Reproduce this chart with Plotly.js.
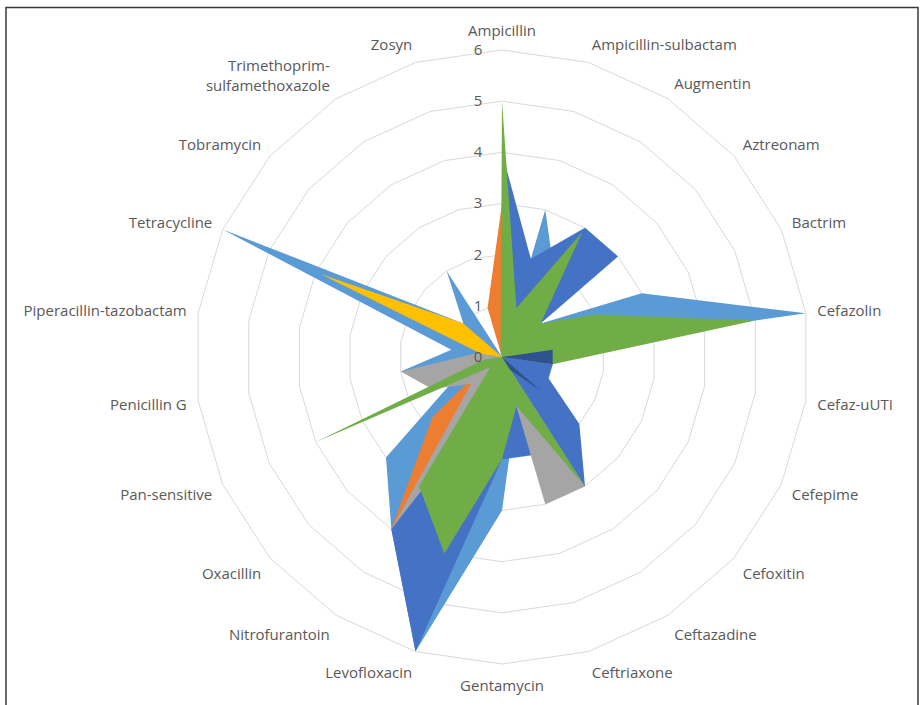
<!DOCTYPE html>
<html>
<head>
<meta charset="utf-8">
<script src="https://cdn.plot.ly/plotly-3.0.1.min.js"></script>
<style>
  html, body { margin: 0; padding: 0; background: #ffffff; }
  #chart { width: 924px; height: 705px; }
</style>
</head>
<body>
<div id="chart"></div>
<script>
// ---- data ----
const categories = ["Ampicillin","Ampicillin-sulbactam","Augmentin","Aztreonam","Bactrim","Cefazolin","Cefaz-uUTI","Cefepime","Cefoxitin","Ceftazadine","Ceftriaxone","Gentamycin","Levofloxacin","Nitrofurantoin","Oxacillin","Pan-sensitive","Penicillin G","Piperacillin-tazobactam","Tetracycline","Tobramycin","Trimethoprim-sulfamethoxazole","Zosyn"];
const categoryLabels = ["Ampicillin","Ampicillin-sulbactam","Augmentin","Aztreonam","Bactrim","Cefazolin","Cefaz-uUTI","Cefepime","Cefoxitin","Ceftazadine","Ceftriaxone","Gentamycin","Levofloxacin","Nitrofurantoin","Oxacillin","Pan-sensitive","Penicillin G","Piperacillin-tazobactam","Tetracycline","Tobramycin","Trimethoprim-<br>sulfamethoxazole","Zosyn"];
const radialTicks = [0, 1, 2, 3, 4, 5, 6];

const seriesLightBlue = [0, 3, 1.9, 1, 3, 6, 0, 0, 0, 0, 1, 3, 6, 4, 3, 1, 2, 1, 6, 1, 2, 0];
const seriesDarkBlue  = [4, 2, 3, 3, 0, 1, 1, 1, 2, 3, 2, 2, 6, 4, 0, 0, 0, 0, 0, 0, 0, 0];
const seriesOrange    = [3, 0, 0, 0, 0, 0, 0, 0, 0, 0, 0, 0, 0.5, 4, 1.8, 0.35, 0, 0, 0, 0, 0, 1];
const seriesGray      = [0, 0, 0, 0, 0, 0, 0, 0, 0, 3, 3, 0, 1, 4, 0.8, 1.5, 2, 0.5, 0, 0, 0, 0];
const seriesYellow    = [0, 0, 0, 0, 0, 0, 0, 0, 0, 0, 0, 0, 0, 0, 0, 0, 0, 0.4, 3.9, 1, 0, 0];
const seriesGreen     = [5, 1, 2.9, 1, 2, 5, 1, 0, 0, 3, 1, 2, 4, 3, 0.3, 4, 0.35, 0, 0, 0, 0, 0.1];
const seriesNavy      = [0, 0, 0, 0, 0, 1, 1, 0, 1, 0.3, 0, 0, 0, 0, 0, 0, 0, 0, 0, 0, 0, 0];

// draw order: bottom -> top
const seriesList = [
  { name: "Series A", r: seriesLightBlue, color: "#5B9BD5" },
  { name: "Series B", r: seriesDarkBlue,  color: "#4472C4" },
  { name: "Series C", r: seriesOrange,    color: "#ED7D31" },
  { name: "Series D", r: seriesGray,      color: "#A5A5A5" },
  { name: "Series E", r: seriesYellow,    color: "#FFC000" },
  { name: "Series F", r: seriesGreen,     color: "#70AD47" },
  { name: "Series G", r: seriesNavy,      color: "#2F528F" }
];

const traces = seriesList.map(s => ({
  type: "scatterpolar",
  r: s.r.concat([s.r[0]]),
  theta: categories.concat([categories[0]]),
  name: s.name,
  mode: "lines",
  line: { width: 0, color: s.color },
  fill: "toself",
  fillcolor: s.color,
  hoverinfo: "skip"
}));

const W = 924, H = 705;
const cx = 502, cy = 357, R = 307;

const layout = {
  width: W, height: H,
  margin: { l: 0, r: 0, t: 0, b: 0 },
  paper_bgcolor: "#ffffff",
  showlegend: false,
  font: { family: "Open Sans, sans-serif", color: "#595959", size: 15 },
  polar: {
    bgcolor: "#ffffff",
    gridshape: "linear",
    domain: {
      x: [(cx - 340) / W, (cx + 340) / W],
      y: [(H - cy - R) / H, (H - cy + R) / H]
    },
    radialaxis: {
      range: [0, 6],
      tickmode: "array",
      tickvals: radialTicks,
      ticktext: radialTicks.map(String),
      angle: 90,
      tickangle: 90,
      side: "counterclockwise",
      showline: false,
      ticks: "outside",
      ticklen: 14,
      tickcolor: "rgba(0,0,0,0)",
      showgrid: true,
      gridcolor: "#d9d9d9",
      gridwidth: 1,
      tickfont: { family: "Open Sans, sans-serif", size: 15, color: "#595959" },
      layer: "above traces"
    },
    angularaxis: {
      type: "category",
      categoryorder: "array",
      categoryarray: categories,
      tickmode: "array",
      tickvals: categories,
      ticktext: categoryLabels,
      rotation: 90,
      direction: "clockwise",
      showgrid: false,
      showline: true,
      linecolor: "#d9d9d9",
      linewidth: 1,
      ticks: "outside",
      ticklen: 8,
      tickcolor: "rgba(0,0,0,0)",
      tickfont: { family: "Open Sans, sans-serif", size: 15, color: "#595959" },
      layer: "below traces"
    }
  },
  shapes: [{
    type: "rect", xref: "paper", yref: "paper",
    x0: 6 / W, x1: 918 / W, y0: -20 / H, y1: (H - 7.5) / H,
    line: { color: "#3a3a3a", width: 1.5 },
    fillcolor: "rgba(0,0,0,0)"
  }]
};

Plotly.newPlot("chart", traces, layout, { displayModeBar: false, staticPlot: true });
</script>
</body>
</html>
